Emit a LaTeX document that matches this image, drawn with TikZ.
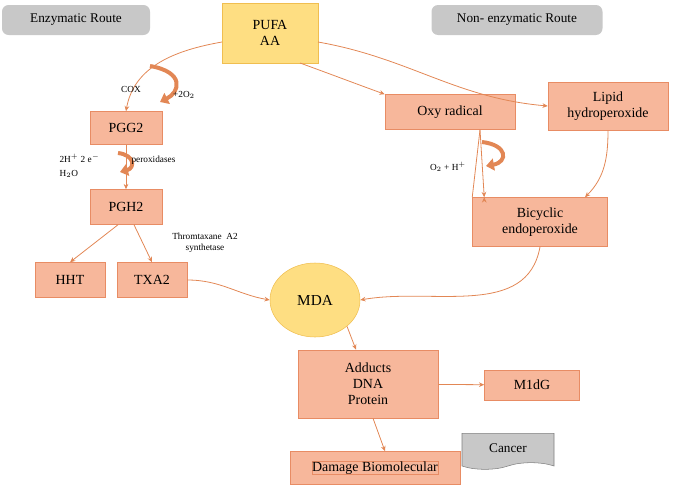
\documentclass[tikz,border=0pt]{standalone}
\usepackage{fontspec}
\setmainfont{Liberation Serif}
\usetikzlibrary{arrows.meta,shapes.geometric,shapes.symbols}
\definecolor{bfill}{RGB}{247,183,155}
\definecolor{bdraw}{RGB}{232,140,100}
\definecolor{arr}{RGB}{226,135,85}
\definecolor{yfill}{RGB}{254,222,130}
\definecolor{ydraw}{RGB}{240,190,80}
\definecolor{gfill}{RGB}{200,200,200}
\begin{document}
\begin{tikzpicture}[x=0.0265cm,y=-0.0265cm,
 box/.style={draw=bdraw,fill=bfill,inner sep=0,align=center,font=\fontsize{10.5}{12}\selectfont},
 grey/.style={fill=gfill,rounded corners=5pt,inner sep=0,font=\fontsize{10}{12}\selectfont},
 ar/.style={draw=arr,-{Stealth[length=4pt,width=3.5pt]},line width=0.6pt},
 curl/.style={draw=arr,line width=3pt,-{Triangle[length=6pt,width=9pt]}},
 lab/.style={font=\fontsize{7}{8.5}\selectfont,inner sep=1pt,align=left}]
\useasboundingbox (0,0) rectangle (685,491);
\node[grey,minimum width=148*0.0265cm,minimum height=30*0.0265cm] (er) at (76,20) {Enzymatic Route};
\node[grey,minimum width=171*0.0265cm,minimum height=30*0.0265cm] (ner) at (517,20) {Non- enzymatic Route};
\node[box,draw=ydraw,fill=yfill,minimum width=96*0.0265cm,minimum height=60*0.0265cm] (pufa) at (270,33) {PUFA\\AA};
\node[box,minimum width=130*0.0265cm,minimum height=35*0.0265cm] (oxy) at (450,112) {Oxy radical};
\node[box,minimum width=120*0.0265cm,minimum height=48*0.0265cm] (lip) at (608,106) {Lipid\\hydroperoxide};
\node[box,minimum width=72*0.0265cm,minimum height=33*0.0265cm] (pgg) at (126,128) {PGG2};
\node[box,minimum width=72*0.0265cm,minimum height=35*0.0265cm] (pgh) at (126,207) {PGH2};
\node[box,minimum width=135*0.0265cm,minimum height=49*0.0265cm] (bic) at (540,222) {Bicyclic\\endoperoxide};
\node[box,minimum width=70*0.0265cm,minimum height=35*0.0265cm] (hht) at (70,280) {HHT};
\node[box,minimum width=70*0.0265cm,minimum height=35*0.0265cm] (txa) at (152,280) {TXA2};
\node[ellipse,draw=ydraw,fill=yfill,minimum width=90*0.0265cm,minimum height=74*0.0265cm,inner sep=0,font=\fontsize{11.5}{13}\selectfont] (mda) at (315,300) {MDA};
\node[box,minimum width=140*0.0265cm,minimum height=68*0.0265cm] (add) at (368,384) {Adducts\\DNA\\Protein};
\node[box,minimum width=95*0.0265cm,minimum height=30*0.0265cm] (m1) at (532,385) {M1dG};
\node[box,minimum width=170*0.0265cm,minimum height=33*0.0265cm] (dam) at (375,468) {Damage Biomolecular};
\node[tape,draw=gray,fill=gfill,minimum width=92*0.0265cm,minimum height=36*0.0265cm,inner sep=0,font=\fontsize{10}{12}\selectfont,tape bend top=none] (can) at (508,448) {Cancer};
\node[box] at (375,468) {Damage Biomolecular};
% connectors
\coordinate (p1) at (222,42);
\coordinate (p2) at (300,63);
\coordinate (p3) at (318,42);
\draw[ar] (p1) to[out=190,in=80] (pgg.north);
\draw[ar] (p2) to[out=-20,in=160] (oxy.north west);
\draw[ar] (p3) to[out=-10,in=175] (lip.west);
\draw[ar] (oxy.south)++(30,0) coordinate (o1) -- (bic.north west) ++(12,0) coordinate (b1);
\draw[ar] (o1) -- (b1);
\draw[ar] (lip.south) to[out=-90,in=45] ([xshift=45*0.0265cm]bic.north);
\draw[ar] (pgg) -- (pgh);
\draw[ar] ([xshift=-8*0.0265cm]pgh.south) -- (hht.north);
\draw[ar] ([xshift=8*0.0265cm]pgh.south) -- (txa.north);
\draw[ar] (txa.east) to[out=0,in=170] (mda.west);
\draw[ar] (bic.south) to[out=-100,in=10] (mda.east);
\draw[ar] (mda.south east) ++(0,0) coordinate (m1a) -- ([xshift=-12*0.0265cm]add.north);
\draw[ar] (add) -- (m1);
\draw[ar] ([xshift=5*0.0265cm]add.south) -- ([xshift=10*0.0265cm]dam.north);
% curly arrows
\coordinate (c1s) at (150,66); \coordinate (c1e) at (160,102);
\draw[curl] (c1s) .. controls (185,72) and (180,92) .. (c1e);
\coordinate (c2s) at (118,153); \coordinate (c2e) at (120,172);
\draw[curl] (c2s) .. controls (135,155) and (135,168) .. (c2e);
\coordinate (c3s) at (482,142); \coordinate (c3e) at (486,166);
\draw[curl] (c3s) .. controls (508,145) and (508,162) .. (c3e);
% labels
\node[lab] (l1) at (131,89) {COX};
\node[lab] (l2) at (184,95) {+2O$_2$};
\node[lab,anchor=west] (l3) at (58,158) {2H$^+$ 2 e$^-$};
\node[lab,anchor=west] (l4) at (58,174) {H$_2$O};
\node[lab,anchor=west] (l5) at (130,160) {peroxidases};
\node[lab,align=center] (l6) at (205,243) {Thromtaxane\ \ A2\\synthetase};
\node[lab] (l7) at (448,167) {O$_2$ + H$^+$};
\end{tikzpicture}
\end{document}
